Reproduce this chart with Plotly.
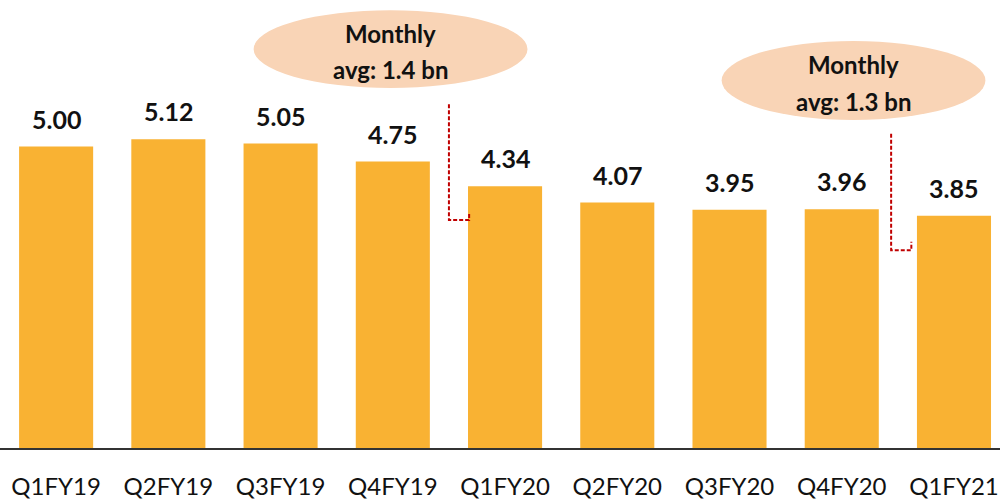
import plotly.graph_objects as go

quarters = ["Q1FY19", "Q2FY19", "Q3FY19", "Q4FY19", "Q1FY20", "Q2FY20", "Q3FY20", "Q4FY20", "Q1FY21"]
values = [5.00, 5.12, 5.05, 4.75, 4.34, 4.07, 3.95, 3.96, 3.85]
value_labels = ["5.00", "5.12", "5.05", "4.75", "4.34", "4.07", "3.95", "3.96", "3.85"]
callout_lines = [["Monthly", "avg: 1.4 bn"], ["Monthly", "avg: 1.3 bn"]]

BAR = "#F9B233"
PEACH = "#F9D4B6"
RED = "#C00000"
FONT = "Lato"

fig = go.Figure()
fig.add_trace(go.Bar(x=quarters, y=values, marker=dict(color=BAR, line=dict(width=0)),
                     hoverinfo="skip", showlegend=False))

for q, v, lab in zip(quarters, values, value_labels):
    fig.add_annotation(x=q, y=v, text=f"<b>{lab}</b>", showarrow=False, yanchor="bottom",
                       yshift=11, font=dict(family=FONT, size=25, color="#111111"))

# callout ellipses
ellipses = [(1.76, 5.97, 4.20, 7.26), (5.93, 5.44, 8.28, 6.75)]
for (x0, y0, x1, y1), lines in zip(ellipses, callout_lines):
    fig.add_shape(type="circle", xref="x", yref="y", x0=x0, y0=y0, x1=x1, y1=y1,
                  fillcolor=PEACH, line=dict(width=0), layer="below")
    cx = (x0 + x1) / 2
    h = y1 - y0
    fig.add_annotation(x=cx, y=y0 + h * 0.70, text=f"<b>{lines[0]}</b>", showarrow=False,
                       font=dict(family=FONT, size=24, color="#111111"))
    fig.add_annotation(x=cx, y=y0 + h * 0.24, text=f"<b>{lines[1]}</b>", showarrow=False,
                       font=dict(family=FONT, size=24, color="#111111"))

# dashed bracket connectors
brackets = [(3.50, 5.70, 3.78, 3.68, 3.90), (7.44, 5.21, 3.28, 7.62, 3.42)]
for xa, ytop, ybot, xb, yend in brackets:
    fig.add_shape(type="path", xref="x", yref="y",
                  path=f"M {xa},{ytop} L {xa},{ybot} L {xb},{ybot} L {xb},{yend}",
                  line=dict(color=RED, width=2, dash="4px,2px"))

fig.update_layout(
    width=1000, height=499,
    margin=dict(l=0, r=0, t=0, b=51, autoexpand=False),
    plot_bgcolor="white", paper_bgcolor="white",
    bargap=0.34,
    xaxis=dict(type="category", range=[-0.5, 8.41], showgrid=False, showline=True,
               linecolor="#333333", linewidth=2, ticks="", ticklabelstandoff=16,
               automargin=False,
               tickfont=dict(family=FONT, size=24, color="#111111")),
    yaxis=dict(range=[0, 7.43], visible=False, showgrid=False, automargin=False),
)

fig.write_html("out.html", config={"displayModeBar": False},
               post_script="document.body.style.margin='0';document.body.style.overflow='hidden';")
